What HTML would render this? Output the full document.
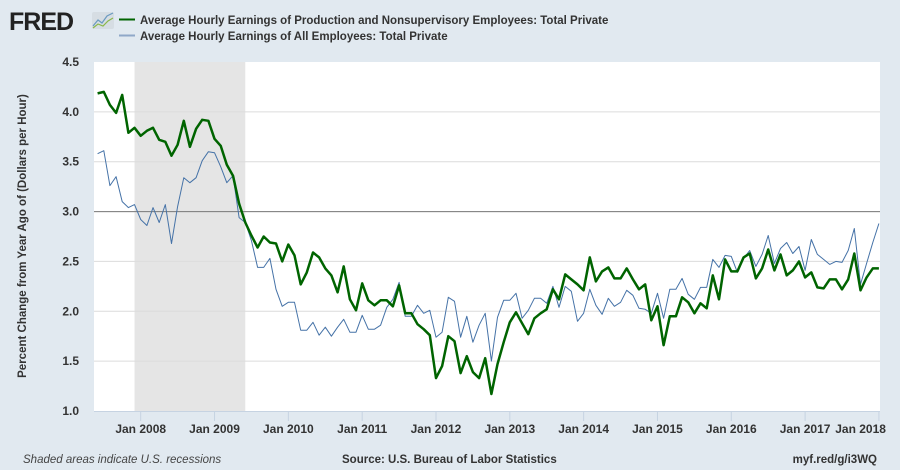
<!DOCTYPE html>
<html><head><meta charset="utf-8">
<style>
body{margin:0;background:#e1e9f0;}
#wrap{position:relative;width:900px;height:470px;overflow:hidden;background:#e1e9f0;font-family:"Liberation Sans",sans-serif;}
text{font-family:"Liberation Sans",sans-serif;}
</style></head>
<body>
<div id="wrap">
<svg id="chart" width="900" height="470">
  <g>
    <text x="9" y="30" font-size="25" font-weight="bold" fill="#222" letter-spacing="-1">FRED</text>
    <rect x="92" y="12" width="22" height="17" fill="#d6dde3" rx="2"/>
    <polyline points="93,26 98,20 102,23 107,16 113,13" fill="none" stroke="#6a9ac0" stroke-width="1.2"/>
    <polyline points="93,28 98,24 103,26 108,21 113,18" fill="none" stroke="#8ab84a" stroke-width="1.2"/>
  </g>
  <g>
    <line x1="119" y1="19.5" x2="135" y2="19.5" stroke="#006400" stroke-width="2"/>
    <text x="140" y="24" font-size="11.5" font-weight="bold" fill="#333">Average Hourly Earnings of Production and Nonsupervisory Employees: Total Private</text>
    <line x1="119" y1="35.5" x2="135" y2="35.5" stroke="#8fa8c8" stroke-width="2"/>
    <text x="140" y="40" font-size="11.5" font-weight="bold" fill="#333">Average Hourly Earnings of All Employees: Total Private</text>
  </g>
  <rect x="94" y="62" width="786" height="349" fill="#fff"/>
  <g id="rec"></g>
  <g id="grid"></g>
  <g id="series"></g>
  <g id="axes"></g>
  <text transform="translate(26,236) rotate(-90)" text-anchor="middle" font-size="11.5" font-weight="bold" fill="#333">Percent Change from Year Ago of (Dollars per Hour)</text>
  <text x="23" y="463" font-size="11.5" font-style="italic" fill="#444">Shaded areas indicate U.S. recessions</text>
  <text x="342" y="463" font-size="11.5" font-weight="bold" fill="#333">Source: U.S. Bureau of Labor Statistics</text>
  <text x="877" y="463" text-anchor="end" font-size="11.5" font-weight="bold" fill="#333">myf.red/g/i3WQ</text>
</svg>
</div>
<script>
// Data: monthly, starting Jun 2007 (month index -7 relative to Jan 2008)
const startMonth = -7;
const production = [4.185,4.20,4.07,3.99,4.17,3.79,3.84,3.76,3.81,3.84,3.72,3.70,3.56,3.67,3.91,3.65,3.83,3.92,3.91,3.73,3.66,3.47,3.36,3.08,2.89,2.76,2.64,2.75,2.69,2.68,2.50,2.67,
2.56,2.27,2.39,2.59,2.54,2.43,2.36,2.19,2.45,2.12,2.01,2.28,2.11,2.06,2.11,2.11,2.05,2.26,1.98,1.98,1.87,1.82,1.76,1.33,1.45,1.75,1.70,1.38,1.55,1.39,1.33,1.53,1.17,1.47,1.69,1.89,1.99,1.88,1.77,
1.93,1.98,2.02,2.22,2.12,2.37,2.32,2.27,2.21,2.54,2.30,2.40,2.44,2.33,2.33,2.43,2.32,2.22,2.27,1.91,2.05,1.66,1.95,1.95,2.14,2.09,1.98,2.08,2.03,2.36,2.12,
2.52,2.40,2.40,2.54,2.58,2.33,2.43,2.62,2.41,2.57,2.36,2.41,2.50,2.34,2.39,2.24,2.23,2.32,2.32,2.22,2.32,2.58,2.21,2.34,2.43,2.43];
const allEmployees = [3.58,3.61,3.26,3.35,3.10,3.04,3.07,2.92,2.86,3.04,2.89,3.07,2.68,3.05,3.34,3.29,3.34,3.51,3.60,3.59,3.45,3.29,3.36,2.94,2.89,2.71,2.44,2.44,2.53,2.22,2.05,2.09,
2.09,1.81,1.81,1.89,1.76,1.84,1.75,1.84,1.92,1.79,1.79,1.96,1.82,1.82,1.86,2.04,2.12,2.29,1.95,1.95,2.06,1.98,2.01,1.74,1.79,2.14,2.10,1.74,1.95,1.69,1.86,1.98,1.50,1.94,2.11,2.11,2.18,1.93,2.01,
2.13,2.13,2.08,2.25,2.04,2.25,2.20,1.90,1.98,2.22,2.06,1.97,2.13,2.05,2.09,2.21,2.16,2.03,2.02,1.98,2.18,1.93,2.22,2.22,2.33,2.17,2.12,2.24,2.24,2.52,2.44,
2.56,2.55,2.39,2.53,2.61,2.45,2.57,2.76,2.48,2.63,2.69,2.58,2.65,2.41,2.72,2.57,2.52,2.47,2.50,2.49,2.61,2.83,2.27,2.48,2.69,2.88];
const yTicks = [1.0,1.5,2.0,2.5,3.0,3.5,4.0,4.5];
const xTickLabels = ["Jan 2008","Jan 2009","Jan 2010","Jan 2011","Jan 2012","Jan 2013","Jan 2014","Jan 2015","Jan 2016","Jan 2017","Jan 2018"];
const xTickMonths = [0,12,24,36,48,60,72,84,96,108,120];
const recessionMonths = [-1,17];
const refLine = 3.0;

const NS="http://www.w3.org/2000/svg";
const L=94,R=880,T=62,B=411;
const yMin=1.0,yMax=4.5;
function yS(v){return T+(yMax-v)/(yMax-yMin)*(B-T);}
function xS(m){return 140.7+m*6.152;}
function mk(tag,attrs,parent){const e=document.createElementNS(NS,tag);for(const k in attrs)e.setAttribute(k,attrs[k]);parent.appendChild(e);return e;}

const rec=document.getElementById('rec');
const rr=mk('rect',{x:xS(recessionMonths[0]),y:T,width:xS(recessionMonths[1])-xS(recessionMonths[0]),height:B-T,fill:'#e5e5e5'},rec);



const grid=document.getElementById('grid');
const axes=document.getElementById('axes');
yTicks.forEach(v=>{
  if(v>yMin&&v<yMax){
    const g=mk('line',{x1:L,x2:R,y1:yS(v),y2:yS(v),stroke:'#dcdcdc','stroke-width':1},grid);
    
    
  }
  const t=mk('text',{x:79,y:yS(v)+4,'text-anchor':'end','font-size':'12','font-weight':'bold',fill:'#333'},axes);
  t.textContent=v.toFixed(1);
  
  
});
const rl=mk('line',{x1:L,x2:R,y1:yS(refLine),y2:yS(refLine),stroke:'#7a7a7a','stroke-width':1},grid);



const ax=mk('line',{x1:L,x2:R,y1:B+0.5,y2:B+0.5,stroke:'#c6d3e2','stroke-width':1},axes);


xTickMonths.forEach((m,i)=>{
  const x=xS(m);
  const tk=mk('line',{x1:x,x2:x,y1:B,y2:B+10,stroke:'#c6d3e2','stroke-width':1},axes);
  
  
  const last=i===xTickMonths.length-1;
  const t=mk('text',{x:last?x+7:x,y:B+22,'text-anchor':last?'end':'middle','font-size':'12','font-weight':'bold',fill:'#333'},axes);
  t.textContent=xTickLabels[i];
  
  
});

const series=document.getElementById('series');
function pts(arr){return arr.map((v,i)=>xS(startMonth+i).toFixed(1)+','+yS(v).toFixed(1)).join(' ');}
const pa=mk('polyline',{points:pts(allEmployees),fill:'none',stroke:'#4572a7','stroke-width':1,'stroke-linejoin':'round'},series);


const pp=mk('polyline',{points:pts(production),fill:'none',stroke:'#006400','stroke-width':2.5,'stroke-linejoin':'round'},series);


</script>
</body></html>
